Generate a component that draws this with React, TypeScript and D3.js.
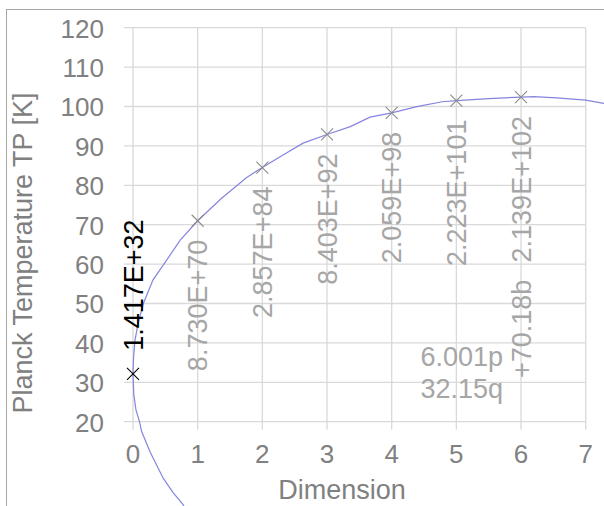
import { useEffect, useRef } from "react"
import * as d3 from "d3"

// marked points (dimension -> Planck temperature)
const dimensions = [0, 1, 2, 3, 4, 5, 6]
const temperatures = [32.15, 71.0, 84.5, 92.9, 98.4, 101.5, 102.4]
const pointLabels = ["1.417E+32", "8.730E+70", "2.857E+84", "8.403E+92", "2.059E+98", "2.223E+101", "2.139E+102"]

// fitted curve
const curveDim = [0.80, 0.778, 0.62, 0.469, 0.263, 0.134, 0.10, 0.046, 0.012, 0, 0.008, 0.031, 0.08, 0.16, 0.31, 0.52, 0.73, 1.0, 1.37, 1.758, 2.0, 2.32, 2.63, 3.0, 3.36, 3.665, 4.0, 4.39, 4.78, 5.0, 5.5, 6.0, 6.2, 6.55, 7.0, 7.28, 7.5]
const curveTemp = [-2, -1.1, 2.0, 5.6, 12.4, 17.5, 20, 23, 27, 32.15, 36, 40.7, 45, 50, 56, 61, 66.1, 71.0, 76.7, 82.0, 84.5, 87.7, 90.7, 92.9, 94.9, 97.3, 98.4, 99.95, 101.2, 101.5, 102.0, 102.4, 102.5, 102.2, 101.6, 100.8, 100.0]

const xTicks = [0, 1, 2, 3, 4, 5, 6, 7]
const yTicks = [20, 30, 40, 50, 60, 70, 80, 90, 100, 110, 120]

const fitLines = ["6.001p", "32.15q"]
const fitLabel = "+70.18b"

const FONT = "'Liberation Sans', Arial, sans-serif"

export default function App() {
    const ref = useRef(null)

    useEffect(() => {
        d3.select(ref.current).selectAll("*").remove()
        buildGraph()
    }, [])

    function buildGraph({
        width = 604,
        height = 506,
        marginLeft = 133,
        marginRight = 18.3,
        marginTop = 27.7,
        marginBottom = 84.3,
    } = {}) {
        const x = d3.scaleLinear()
            .domain([0, 7])
            .range([marginLeft, width - marginRight])
        const y = d3.scaleLinear()
            .domain([20, 120])
            .range([height - marginBottom, marginTop])

        const svg = d3.select(ref.current).append("svg")
            .attr("width", width)
            .attr("height", height)
            .attr("viewBox", [0, 0, width, height])
            .style("display", "block")
            .style("font-family", FONT)

        svg.append("rect")
            .attr("width", width).attr("height", height)
            .attr("fill", "white")

        // chart frame
        svg.append("rect")
            .attr("x", 6.5).attr("y", 9.5)
            .attr("width", width + 20).attr("height", height + 20)
            .attr("fill", "none")
            .attr("stroke", "#a6a6a6")

        // grid
        svg.append("g")
            .attr("stroke", "#d9d9d9")
            .attr("stroke-width", 1.3)
            .selectAll("line")
            .data(yTicks)
            .join("line")
                .attr("x1", x(0) - 9)
                .attr("x2", x(7))
                .attr("y1", d => y(d))
                .attr("y2", d => y(d))
        svg.append("g")
            .attr("stroke", "#d9d9d9")
            .attr("stroke-width", 1.3)
            .selectAll("line")
            .data(xTicks)
            .join("line")
                .attr("x1", d => x(d))
                .attr("x2", d => x(d))
                .attr("y1", y(120))
                .attr("y2", y(20) + 8)

        // tick labels
        svg.append("g")
                .attr("fill", "#808080")
                .attr("font-size", 26)
                .attr("text-anchor", "end")
            .selectAll("text")
            .data(yTicks)
            .join("text")
                .attr("x", x(0) - 29)
                .attr("y", d => y(d))
                .attr("dy", "0.38em")
                .text(d => d)
        svg.append("g")
                .attr("fill", "#808080")
                .attr("font-size", 26)
                .attr("text-anchor", "middle")
            .selectAll("text")
            .data(xTicks)
            .join("text")
                .attr("x", d => x(d))
                .attr("y", 463)
                .text(d => d)

        // axis titles
        svg.append("text")
            .attr("fill", "#808080")
            .attr("font-size", 27)
            .attr("text-anchor", "middle")
            .attr("x", 342)
            .attr("y", 499)
            .text("Dimension")
        svg.append("text")
            .attr("fill", "#808080")
            .attr("font-size", 27)
            .attr("text-anchor", "middle")
            .attr("transform", `translate(32,253)rotate(-90)`)
            .text("Planck Temperature TP [K]")

        // curve
        const line = d3.line()
            .x(i => x(curveDim[i]))
            .y(i => y(curveTemp[i]))
        svg.append("path")
            .attr("d", line(d3.range(curveDim.length)))
            .attr("fill", "none")
            .attr("stroke", "#8585e0")
            .attr("stroke-width", 1.2)

        // markers
        const r = 6
        svg.append("g")
            .selectAll("path")
            .data(dimensions)
            .join("path")
                .attr("d", (d, i) => {
                    const cx = x(d), cy = y(temperatures[i])
                    return `M${cx - r},${cy - r}L${cx + r},${cy + r}M${cx - r},${cy + r}L${cx + r},${cy - r}`
                })
                .attr("stroke", (d, i) => i === 0 ? "#000" : "#8c8c8c")
                .attr("stroke-width", 1.1)
                .attr("fill", "none")

        // point labels, rotated
        svg.append("g")
                .attr("font-size", 27)
            .selectAll("text")
            .data(dimensions)
            .join("text")
                .attr("fill", (d, i) => i === 0 ? "#000" : "#a6a6a6")
                .attr("text-anchor", (d, i) => i === 0 ? "start" : "end")
                .attr("transform", (d, i) => {
                    const cy = y(temperatures[i])
                    return `translate(${x(d)},${i === 0 ? cy - 23 : cy + 19})rotate(-90)`
                })
                .attr("dy", "0.36em")
                .text((d, i) => pointLabels[i])

        // fit annotation
        svg.append("text")
            .attr("fill", "#a6a6a6")
            .attr("font-size", 27)
            .attr("text-anchor", "start")
            .attr("transform", `translate(${x(6)},378)rotate(-90)`)
            .attr("dy", "0.36em")
            .text(fitLabel)
        svg.append("g")
                .attr("fill", "#a6a6a6")
                .attr("font-size", 27)
                .attr("text-anchor", "end")
            .selectAll("text")
            .data(fitLines)
            .join("text")
                .attr("x", 503)
                .attr("y", (_, i) => 366 + i * 32)
                .text(d => d)
    }

    return (<div ref={ref} style={{ position: "absolute", left: 0, top: 0 }}></div>)
}
